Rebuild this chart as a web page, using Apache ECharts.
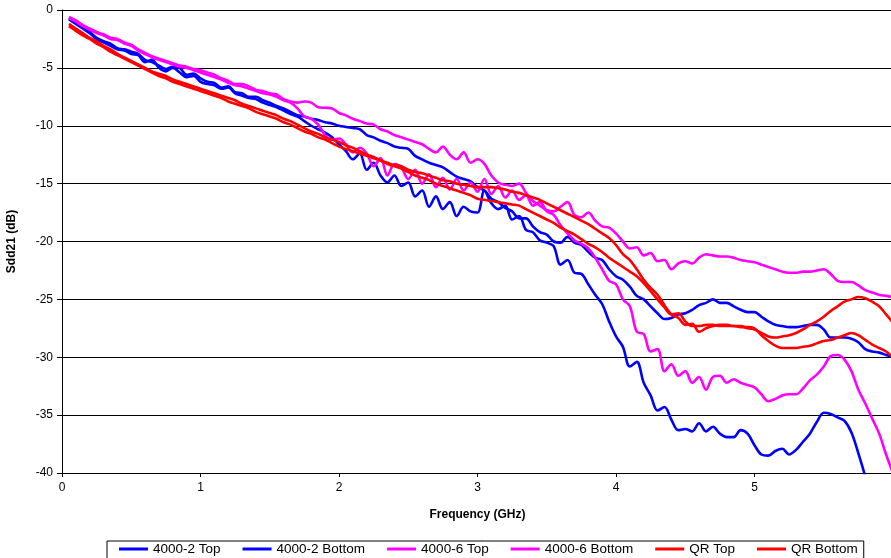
<!DOCTYPE html>
<html>
<head>
<meta charset="utf-8">
<script src="https://cdn.jsdelivr.net/npm/echarts@6/dist/echarts.min.js"></script>
<style>
  html, body { margin: 0; padding: 0; background: #fff; }
  #chart { width: 891px; height: 558px; }
</style>
</head>
<body>
<div id="chart"></div>
<script>
// Frequency sweep points (GHz)
const freq = [
  0.05, 0.10, 0.15, 0.20, 0.25, 0.30, 0.35, 0.40, 0.45, 0.50,
  0.55, 0.60, 0.65, 0.70, 0.75, 0.80, 0.85, 0.90, 0.95, 1.00,
  1.05, 1.10, 1.15, 1.20, 1.25, 1.30, 1.35, 1.40, 1.45, 1.50,
  1.55, 1.60, 1.65, 1.70, 1.75, 1.80, 1.85, 1.90, 1.95, 2.00,
  2.05, 2.10, 2.15, 2.20, 2.25, 2.30, 2.35, 2.40, 2.45, 2.50,
  2.55, 2.60, 2.65, 2.70, 2.75, 2.80, 2.85, 2.90, 2.95, 3.00,
  3.05, 3.10, 3.15, 3.20, 3.25, 3.30, 3.35, 3.40, 3.45, 3.50,
  3.55, 3.60, 3.65, 3.70, 3.75, 3.80, 3.85, 3.90, 3.95, 4.00,
  4.05, 4.10, 4.15, 4.20, 4.25, 4.30, 4.35, 4.40, 4.45, 4.50,
  4.55, 4.60, 4.65, 4.70, 4.75, 4.80, 4.85, 4.90, 4.95, 5.00,
  5.05, 5.10, 5.15, 5.20, 5.25, 5.30, 5.35, 5.40, 5.45, 5.50,
  5.55, 5.60, 5.65, 5.70, 5.75, 5.80, 5.85, 5.90, 5.95, 6.00
];

// Sdd21 (dB) per channel
const sdd21_4000_2_top = [
  -0.7, -1.1, -1.5, -1.9, -2.4, -2.7, -2.9, -3.3, -3.4, -3.6,
  -3.8, -4.3, -4.5, -4.8, -5.1, -4.9, -5.0, -5.6, -5.5, -5.9,
  -6.2, -6.3, -6.7, -6.6, -7.1, -7.2, -7.5, -7.5, -7.8, -8.0,
  -8.3, -8.5, -8.8, -9.1, -9.2, -9.4, -9.5, -9.7, -9.8, -10.0,
  -10.1, -10.2, -10.3, -10.8, -11.0, -11.3, -11.5, -11.8, -11.9, -12.0,
  -12.6, -12.9, -13.2, -13.4, -13.6, -14.0, -14.4, -14.6, -14.8, -15.3,
  -15.6, -16.3, -16.6, -17.1, -17.4, -18.0, -18.0, -18.7, -19.2, -19.4,
  -20.0, -20.1, -19.6, -20.1, -20.3, -20.9, -21.4, -21.6, -22.4, -23.0,
  -23.3, -23.9, -24.7, -25.0, -25.6, -26.2, -26.7, -26.6, -26.3, -26.2,
  -25.9, -25.5, -25.3, -25.0, -25.3, -25.3, -25.6, -25.9, -26.1, -26.1,
  -26.5, -26.9, -27.2, -27.3, -27.4, -27.4, -27.3, -27.2, -27.2, -27.6,
  -28.3, -28.3, -28.3, -28.4, -28.7, -29.3, -29.5, -29.6, -29.8, -30.0
];

const sdd21_4000_2_bottom = [
  -0.8, -1.2, -1.6, -2.0, -2.5, -2.8, -3.1, -3.4, -3.5, -3.8,
  -3.9, -4.5, -4.3, -5.0, -5.3, -5.0, -5.4, -5.8, -5.7, -6.2,
  -6.4, -6.5, -6.8, -6.7, -7.2, -7.4, -7.6, -7.7, -8.0, -8.2,
  -8.4, -8.7, -9.0, -9.2, -9.6, -10.0, -10.3, -10.6, -11.0, -11.6,
  -12.2, -12.9, -12.4, -13.8, -13.2, -14.3, -14.9, -14.3, -15.2, -14.9,
  -16.1, -15.6, -17.0, -16.1, -17.2, -16.6, -17.8, -17.0, -17.4, -17.5,
  -15.6, -16.7, -17.2, -16.9, -18.1, -17.8, -19.0, -19.2, -19.9, -20.1,
  -20.4, -22.0, -21.6, -22.7, -22.8, -23.7, -24.6, -25.4, -26.9, -28.2,
  -29.1, -30.8, -30.4, -32.2, -33.3, -34.6, -34.3, -35.4, -36.3, -36.2,
  -36.4, -35.7, -36.4, -36.0, -36.6, -36.9, -36.9, -36.3, -36.6, -37.6,
  -38.4, -38.5, -38.1, -37.9, -38.4, -38.0, -37.3, -36.6, -35.6, -34.8,
  -34.9, -35.2, -35.5, -36.5, -38.3, -40.3, -42.5, -44.5, -46.5, -48.5
];

const sdd21_4000_6_top = [
  -0.6, -0.9, -1.3, -1.6, -1.9, -2.1, -2.4, -2.5, -2.8, -3.0,
  -3.4, -3.7, -4.0, -4.2, -4.4, -4.6, -4.8, -4.9, -5.1, -5.2,
  -5.4, -5.6, -5.9, -6.1, -6.4, -6.4, -6.6, -6.9, -7.0, -7.2,
  -7.3, -7.7, -7.9, -8.0, -7.9, -8.0, -8.4, -8.45, -8.5, -8.9,
  -9.1, -9.4, -9.6, -9.8, -9.9, -10.3, -10.5, -10.8, -11.0, -11.2,
  -11.4, -11.6, -12.0, -12.3, -11.8, -12.5, -12.9, -12.3, -13.2, -12.9,
  -13.3, -14.3, -14.9, -15.1, -15.2, -15.0, -15.8, -16.5, -16.9, -17.3,
  -17.4, -17.0, -16.6, -17.7, -17.9, -17.5, -18.2, -18.7, -18.8, -19.3,
  -20.0, -20.6, -20.5, -21.2, -21.0, -21.7, -21.6, -22.4, -21.9, -21.7,
  -21.9, -21.4, -21.1, -21.2, -21.3, -21.3, -21.4, -21.6, -21.7, -21.8,
  -22.0, -22.2, -22.4, -22.6, -22.7, -22.7, -22.6, -22.6, -22.5, -22.4,
  -22.8, -23.4, -23.5, -23.5, -23.8, -24.2, -24.4, -24.6, -24.7, -24.8
];

const sdd21_4000_6_bottom = [
  -0.7, -1.0, -1.4, -1.7, -2.0, -2.2, -2.5, -2.6, -2.9, -3.1,
  -3.5, -3.8, -4.1, -4.3, -4.5, -4.7, -4.9, -5.0, -5.2, -5.4,
  -5.6, -5.8, -6.0, -6.3, -6.5, -6.6, -6.8, -7.0, -7.2, -7.3,
  -7.5, -7.8, -8.0, -8.5, -9.2, -9.4, -9.9, -10.8, -11.2, -11.1,
  -11.6, -12.3, -11.9, -12.4, -13.5, -12.8, -14.3, -13.3, -13.6, -14.6,
  -13.8, -15.0, -14.2, -15.3, -14.5, -15.5, -14.6, -15.6, -14.9, -15.7,
  -14.6, -15.9, -15.2, -16.2, -15.6, -16.4, -16.0, -16.9, -16.6, -17.4,
  -17.7, -18.6, -19.3, -19.9, -20.2, -20.6, -21.4, -22.4, -23.4, -23.7,
  -25.0, -25.6, -27.8, -28.0, -29.5, -29.3, -31.2, -30.6, -31.6, -31.2,
  -32.2, -31.7, -32.8, -31.7, -31.6, -32.2, -31.9, -32.2, -32.4, -32.6,
  -33.2, -33.8, -33.6, -33.3, -33.2, -33.2, -32.7, -32.0, -31.5, -30.8,
  -29.9, -29.8, -30.2, -31.2, -32.8, -34.0, -35.3, -36.6, -38.4, -40.0
];

const sdd21_qr_top = [
  -1.2, -1.6, -2.0, -2.4, -2.7, -3.1, -3.4, -3.8, -4.1, -4.4,
  -4.7, -5.0, -5.3, -5.5, -5.7, -6.0, -6.2, -6.4, -6.6, -6.8,
  -7.0, -7.2, -7.4, -7.6, -7.8, -8.1, -8.3, -8.5, -8.7, -8.9,
  -9.1, -9.4, -9.6, -9.9, -10.2, -10.5, -10.7, -11.0, -11.2, -11.4,
  -11.7, -11.9, -12.2, -12.5, -12.7, -13.0, -13.2, -13.4, -13.5, -13.8,
  -14.0, -14.1, -14.3, -14.5, -14.7, -14.8, -15.0, -15.1, -15.2, -15.3,
  -15.3, -15.3, -15.4, -15.5, -15.7, -15.8, -16.0, -16.2, -16.4, -16.7,
  -17.0, -17.3, -17.6, -17.9, -18.2, -18.5, -18.9, -19.3, -19.7, -20.3,
  -21.1, -21.6, -22.4, -23.3, -24.0, -24.6, -25.5, -26.3, -26.6, -27.2,
  -27.1, -27.8, -27.5, -27.3, -27.2, -27.2, -27.3, -27.3, -27.5, -27.6,
  -27.9, -28.2, -28.3, -28.2, -28.1, -27.9, -27.6, -27.2, -26.9, -26.5,
  -26.0, -25.6, -25.2, -25.0, -24.8, -24.9, -25.2, -25.6, -26.3, -27.0
];

const sdd21_qr_bottom = [
  -1.4, -1.8, -2.2, -2.5, -2.9, -3.2, -3.6, -3.9, -4.2, -4.5,
  -4.8, -5.1, -5.4, -5.7, -5.9, -6.2, -6.4, -6.6, -6.8, -7.0,
  -7.2, -7.4, -7.6, -7.9, -8.1, -8.3, -8.5, -8.8, -9.0, -9.2,
  -9.4, -9.7, -9.9, -10.2, -10.5, -10.7, -11.0, -11.2, -11.5, -11.8,
  -12.0, -12.2, -12.4, -12.6, -12.8, -13.0, -13.3, -13.5, -13.7, -14.0,
  -14.3, -14.5, -14.7, -15.0, -15.2, -15.4, -15.6, -15.8, -16.0, -16.3,
  -16.4, -16.5, -16.6, -16.7, -16.8, -16.9, -17.2, -17.5, -17.8, -18.1,
  -18.4, -18.8, -19.1, -19.4, -19.8, -20.2, -20.5, -20.9, -21.4, -21.8,
  -22.2, -22.6, -23.0, -23.6, -24.3, -25.0, -25.7, -26.3, -26.2, -26.9,
  -27.3, -27.3, -27.2, -27.2, -27.3, -27.3, -27.3, -27.4, -27.4, -27.5,
  -28.1, -28.6, -29.0, -29.2, -29.2, -29.2, -29.1, -29.0, -28.8, -28.6,
  -28.5, -28.3, -28.1, -27.9, -28.1, -28.5, -28.9, -29.2, -29.5, -30.0
];

const seriesNames = ['4000-2 Top', '4000-2 Bottom', '4000-6 Top', '4000-6 Bottom', 'QR Top', 'QR Bottom'];
const seriesValues = [sdd21_4000_2_top, sdd21_4000_2_bottom, sdd21_4000_6_top, sdd21_4000_6_bottom, sdd21_qr_top, sdd21_qr_bottom];
const seriesColors = ['#0000FF', '#0000FF', '#FF00FF', '#FF00FF', '#FF0000', '#FF0000'];

const yTicks = { min: -40, max: 0, step: 5 };
const xTicks = { min: 0, max: 6, step: 1 };

const FONT = "'Liberation Sans', Arial, sans-serif";

const chart = echarts.init(document.getElementById('chart'), null, { renderer: 'canvas' });

chart.setOption({
  animation: false,
  backgroundColor: '#ffffff',
  textStyle: { fontFamily: FONT, color: '#000' },
  grid: { left: 62, top: 10, right: -2, bottom: 85, containLabel: false, outerBoundsMode: 'none' },
  xAxis: {
    type: 'value',
    min: xTicks.min, max: xTicks.max, interval: xTicks.step,
    name: 'Frequency (GHz)',
    nameLocation: 'middle',
    nameGap: 36,
    nameTextStyle: { fontFamily: FONT, fontSize: 12, fontWeight: 'bold', color: '#000' },
    axisLine: { show: true, onZero: false, lineStyle: { color: '#000', width: 1 } },
    axisTick: { show: true, inside: false, length: 4, lineStyle: { color: '#000' } },
    axisLabel: { fontFamily: FONT, fontSize: 12, color: '#000', margin: 9, showMaxLabel: false },
    splitLine: { show: false }
  },
  yAxis: {
    type: 'value',
    min: yTicks.min, max: yTicks.max, interval: yTicks.step,
    name: 'Sdd21 (dB)',
    nameLocation: 'middle',
    nameGap: 44,
    nameRotate: 90,
    nameTextStyle: { fontFamily: FONT, fontSize: 12, fontWeight: 'bold', color: '#000' },
    axisLine: { show: true, onZero: false, lineStyle: { color: '#000', width: 1 } },
    axisTick: { show: true, inside: false, length: 5, lineStyle: { color: '#000' } },
    axisLabel: { fontFamily: FONT, fontSize: 12, color: '#000', margin: 9 },
    splitLine: { show: true, lineStyle: { color: '#000', width: 1 } }
  },
  legend: {
    data: seriesNames,
    left: 107,
    top: 541,
    orient: 'horizontal',
    icon: 'rect',
    padding: [1, 6, 8, 12],
    borderColor: '#000',
    borderWidth: 1,
    itemWidth: 29,
    itemHeight: 3,
    itemGap: 22,
    textStyle: { fontFamily: FONT, fontSize: 13.5, color: '#000' }
  },
  series: seriesNames.map((name, k) => ({
    name: name,
    type: 'line',
    showSymbol: false,
    symbol: 'none',
    smooth: 0.35,
    clip: true,
    color: seriesColors[k],
    lineStyle: { color: seriesColors[k], width: 2.6 },
    data: freq.map((f, i) => [f, seriesValues[k][i]])
  }))
});
</script>
</body>
</html>
